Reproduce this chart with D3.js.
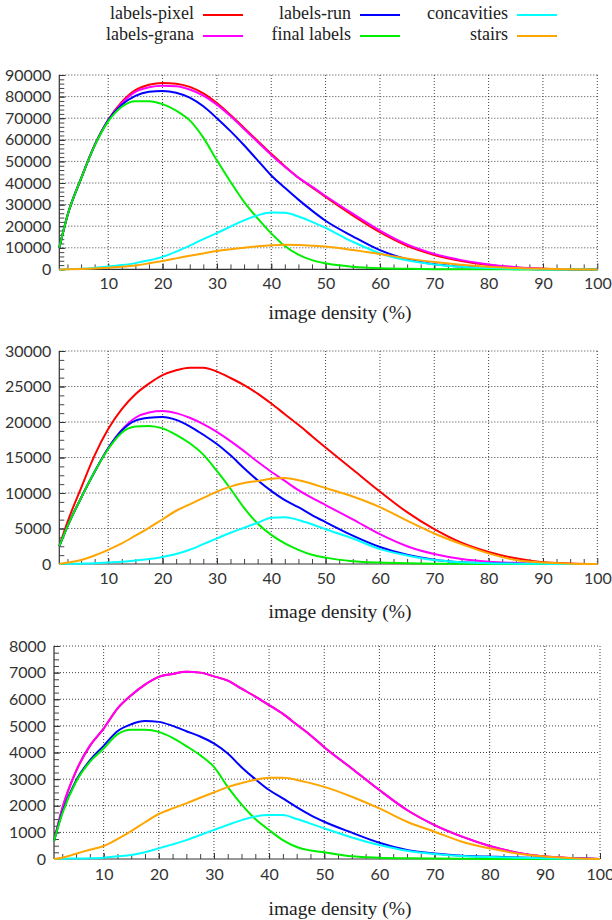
<!DOCTYPE html>
<html><head><meta charset="utf-8">
<script src="https://cdn.jsdelivr.net/npm/d3@7/dist/d3.min.js"></script>
<style>
html,body{margin:0;padding:0;background:#fff;}
svg{display:block;}
</style>
</head><body>
<svg id="chart" width="612" height="920"></svg>
<script>
// ---------- DATA ----------
const seriesNames = ["labels-pixel", "labels-grana", "labels-run", "final labels", "concavities", "stairs"];
const seriesColors = ["#ff0000", "#ff00ff", "#0000ff", "#00ee00", "#00ffff", "#ffa500"];
const xValues = [1, 2.5, 5, 7.5, 10, 12.5, 15, 17.5, 20, 22.5, 25, 27.5, 30, 32.5, 35, 37.5, 40, 42.5, 45, 47.5, 50, 55, 60, 65, 70, 75, 80, 85, 90, 95, 100];
const xTickLabels = [10, 20, 30, 40, 50, 60, 70, 80, 90, 100];
const xAxisTitle = "image density (%)";

// panel 1
const p1Pixel = [10000, 25000, 42000, 57500, 69200, 77500, 83000, 85500, 86300, 86000, 84500, 81500, 77000, 71500, 65500, 59500, 53500, 47800, 42400, 38000, 33500, 25000, 17200, 10900, 6700, 3900, 2000, 900, 300, 100, 0];
const p1Grana = [10000, 25000, 42000, 57500, 69200, 77000, 82200, 84300, 85000, 84800, 83300, 80500, 76300, 71000, 65000, 59000, 53000, 47500, 42500, 38300, 34000, 25800, 18000, 11600, 7200, 4300, 2300, 1000, 350, 100, 0];
const p1Run = [10000, 25000, 42000, 57400, 69000, 76200, 80300, 82200, 82600, 81800, 79500, 75500, 70000, 64000, 57500, 50500, 43500, 37800, 32300, 27200, 22500, 15300, 8900, 4700, 2400, 1300, 700, 300, 100, 50, 0];
const p1Final = [10000, 25000, 42000, 57300, 68500, 75300, 77900, 77900, 76500, 73500, 69000, 61000, 50500, 40600, 31300, 23600, 16700, 10800, 6800, 4300, 2800, 1200, 500, 250, 100, 50, 20, 10, 0, 0, 0];
const p1Concav = [0, 100, 300, 700, 1300, 2000, 2900, 4200, 5800, 8200, 11000, 14000, 16800, 19800, 22700, 25000, 26300, 26200, 24500, 22000, 19200, 12800, 7500, 4200, 2300, 1200, 600, 250, 100, 30, 0];
const p1Stairs = [0, 50, 200, 450, 800, 1200, 1800, 2800, 3900, 5100, 6300, 7400, 8500, 9300, 10000, 10700, 11200, 11400, 11300, 11000, 10600, 9000, 7100, 5100, 3400, 2200, 1200, 600, 250, 80, 0];
const p1YTicks = [0, 10000, 20000, 30000, 40000, 50000, 60000, 70000, 80000, 90000];

// panel 2
const p2Pixel = [2500, 5900, 10700, 15300, 19000, 21800, 23900, 25400, 26600, 27300, 27650, 27650, 27100, 26200, 25200, 24000, 22600, 21100, 19600, 18000, 16400, 13300, 10200, 7300, 4900, 3000, 1700, 800, 250, 80, 0];
const p2Grana = [2500, 5300, 9300, 13000, 16300, 18900, 20600, 21350, 21550, 21250, 20600, 19700, 18600, 17300, 15900, 14400, 13000, 11700, 10400, 9300, 8300, 6300, 4200, 2500, 1400, 700, 330, 150, 50, 10, 0];
const p2Run = [2500, 5300, 9300, 13000, 16300, 18800, 20200, 20600, 20700, 20300, 19400, 18200, 16900, 15300, 13500, 11800, 10300, 9000, 8000, 6900, 5900, 4000, 2400, 1300, 600, 250, 100, 50, 0, 0, 0];
const p2Final = [2500, 5300, 9300, 13000, 16200, 18500, 19350, 19450, 19100, 18200, 17000, 15400, 13100, 10600, 7900, 5700, 4100, 2900, 2000, 1300, 900, 400, 200, 100, 50, 20, 0, 0, 0, 0, 0];
const p2Concav = [0, 20, 50, 100, 200, 300, 500, 700, 1000, 1400, 2000, 2800, 3600, 4400, 5100, 5800, 6500, 6600, 6200, 5600, 4900, 3600, 2100, 1200, 560, 250, 100, 50, 20, 0, 0];
const p2Stairs = [0, 200, 560, 1200, 2000, 2900, 4000, 5100, 6300, 7500, 8400, 9300, 10200, 10900, 11400, 11700, 12000, 12100, 11800, 11300, 10700, 9500, 8000, 6100, 4300, 2800, 1500, 560, 200, 50, 0];
const p2YTicks = [0, 5000, 10000, 15000, 20000, 25000, 30000];

// panel 3
const p3Pixel = [675, 1900, 3300, 4250, 4900, 5650, 6150, 6550, 6840, 6950, 7030, 7000, 6860, 6700, 6400, 6100, 5780, 5450, 5050, 4650, 4200, 3400, 2590, 1840, 1275, 840, 490, 240, 90, 40, 0];
const p3Grana = [675, 1900, 3300, 4250, 4900, 5650, 6150, 6550, 6840, 6950, 7030, 7000, 6860, 6700, 6400, 6100, 5780, 5450, 5050, 4650, 4200, 3400, 2590, 1840, 1275, 840, 490, 240, 90, 40, 0];
const p3Run = [675, 1750, 2950, 3700, 4250, 4800, 5060, 5180, 5150, 5000, 4800, 4600, 4340, 3960, 3450, 3000, 2590, 2275, 1950, 1650, 1400, 990, 610, 340, 210, 125, 90, 60, 40, 20, 0];
const p3Final = [675, 1700, 2900, 3650, 4150, 4680, 4850, 4850, 4775, 4550, 4240, 3900, 3460, 2710, 2050, 1500, 1090, 710, 450, 320, 250, 100, 50, 30, 20, 10, 0, 0, 0, 0, 0];
const p3Concav = [0, 10, 20, 30, 50, 100, 150, 250, 400, 550, 710, 900, 1090, 1280, 1460, 1600, 1650, 1650, 1500, 1330, 1150, 810, 525, 310, 190, 110, 75, 50, 30, 10, 0];
const p3Stairs = [0, 50, 200, 350, 490, 750, 1050, 1380, 1690, 1900, 2090, 2300, 2500, 2700, 2850, 2980, 3050, 3050, 2970, 2850, 2710, 2340, 1900, 1400, 1025, 650, 400, 210, 90, 30, 0];
const p3YTicks = [0, 1000, 2000, 3000, 4000, 5000, 6000, 7000, 8000];

// ---------- LAYOUT ----------
const panels = [
  {series: [p1Pixel, p1Grana, p1Run, p1Final, p1Concav, p1Stairs], yTicks: p1YTicks, yMinor: 5,
   left: 59.3, right: 597.3, top: 75, bottom: 269.4, labelY: 285, titleY: 319},
  {series: [p2Pixel, p2Grana, p2Run, p2Final, p2Concav, p2Stairs], yTicks: p2YTicks, yMinor: 4,
   left: 59.3, right: 597.3, top: 351, bottom: 564, labelY: 580, titleY: 618},
  {series: [p3Pixel, p3Grana, p3Run, p3Final, p3Concav, p3Stairs], yTicks: p3YTicks, yMinor: 4,
   left: 54, right: 600, top: 646, bottom: 859, labelY: 876, titleY: 915}
];

const svg = d3.select("#chart");
const tickFont = "Lato, 'Open Sans', sans-serif";
const textFont = "'Liberation Serif', 'DejaVu Serif', serif";
const tickColor = "#333";

panels.forEach(p => {
  const yMax = p.yTicks[p.yTicks.length - 1];
  const x = d3.scaleLinear().domain([1, 100]).range([p.left, p.right]);
  const y = d3.scaleLinear().domain([0, yMax]).range([p.bottom, p.top]);
  const g = svg.append("g");

  // grid
  const ystep = p.yTicks[1] - p.yTicks[0];
  g.selectAll(".hg").data(p.yTicks.filter(v => v > 0)).enter().append("line")
    .attr("x1", p.left).attr("x2", p.right).attr("y1", d => y(d)).attr("y2", d => y(d))
    .attr("stroke", "#222").attr("stroke-width", 1).attr("stroke-dasharray", "1,2").attr("opacity", 0.85);
  g.selectAll(".vg").data(xTickLabels).enter().append("line")
    .attr("x1", d => x(d)).attr("x2", d => x(d)).attr("y1", p.top).attr("y2", p.bottom)
    .attr("stroke", "#222").attr("stroke-width", 1).attr("stroke-dasharray", "1,2").attr("opacity", 0.85);

  // minor ticks y
  const yMinorVals = [];
  for (let v = 0; v <= yMax + 1e-6; v += ystep / p.yMinor) yMinorVals.push(v);
  g.append("g").attr("transform", `translate(${p.left},0)`)
    .call(d3.axisLeft(y).tickValues(yMinorVals).tickSize(-5).tickFormat(""))
    .call(a => { a.select(".domain").remove(); a.selectAll("line").attr("stroke", "#444"); });
  // minor ticks x
  const xMinorVals = [];
  for (let v = 2.5; v < 100; v += 2.5) xMinorVals.push(v);
  g.append("g").attr("transform", `translate(0,${p.bottom})`)
    .call(d3.axisBottom(x).tickValues(xMinorVals).tickSize(-5).tickFormat(""))
    .call(a => { a.select(".domain").remove(); a.selectAll("line").attr("stroke", "#444"); });

  // y axis
  g.append("g").attr("transform", `translate(${p.left},0)`)
    .call(d3.axisLeft(y).tickValues(p.yTicks).tickSize(-6).tickPadding(8).tickFormat(d3.format("d")))
    .call(a => {
      a.select(".domain").attr("stroke", "#333").attr("stroke-width", 1.2).attr("d", `M0,${p.bottom}V${p.top}`);
      a.selectAll("line").attr("stroke", "#333");
      a.selectAll("text").attr("font-family", tickFont).attr("font-size", 16).attr("fill", tickColor);
    });
  // x axis
  g.append("g").attr("transform", `translate(0,${p.bottom})`)
    .call(d3.axisBottom(x).tickValues(xTickLabels).tickSize(-6).tickPadding(0).tickFormat(d3.format("d")))
    .call(a => {
      a.select(".domain").attr("stroke", "#333").attr("stroke-width", 1.2).attr("d", `M${p.left},0H${p.right}`);
      a.selectAll("line").attr("stroke", "#333");
      a.selectAll("text").attr("font-family", tickFont).attr("font-size", 16).attr("fill", tickColor)
        .attr("dy", null).attr("y", p.labelY - p.bottom).attr("dominant-baseline", "middle");
    });

  // lines
  const line = d3.line().x((d, i) => x(xValues[i])).y(d => y(d)).curve(d3.curveMonotoneX);
  p.series.forEach((s, i) => {
    g.append("path").datum(s).attr("d", line).attr("fill", "none")
      .attr("stroke", seriesColors[i]).attr("stroke-width", 2).attr("stroke-linejoin", "round");
  });

  // title
  g.append("text").attr("x", 340).attr("y", p.titleY).attr("text-anchor", "middle")
    .attr("font-family", textFont).attr("font-size", 19.5).attr("fill", "#222").text(xAxisTitle);
});

// ---------- LEGEND ----------
const legendCols = [{textEnd: 194, lx1: 203, lx2: 243}, {textEnd: 351, lx1: 360, lx2: 400}, {textEnd: 508, lx1: 517, lx2: 557}];
const legendRows = [15, 36];
seriesNames.forEach((name, i) => {
  const c = legendCols[Math.floor(i / 2)], r = legendRows[i % 2];
  svg.append("text").attr("x", c.textEnd).attr("y", r).attr("text-anchor", "end")
    .attr("dominant-baseline", "middle").attr("font-family", textFont).attr("font-size", 18)
    .attr("fill", "#222").text(name);
  svg.append("line").attr("x1", c.lx1).attr("x2", c.lx2).attr("y1", r).attr("y2", r)
    .attr("stroke", seriesColors[i]).attr("stroke-width", 2);
});
</script>
</body></html>
